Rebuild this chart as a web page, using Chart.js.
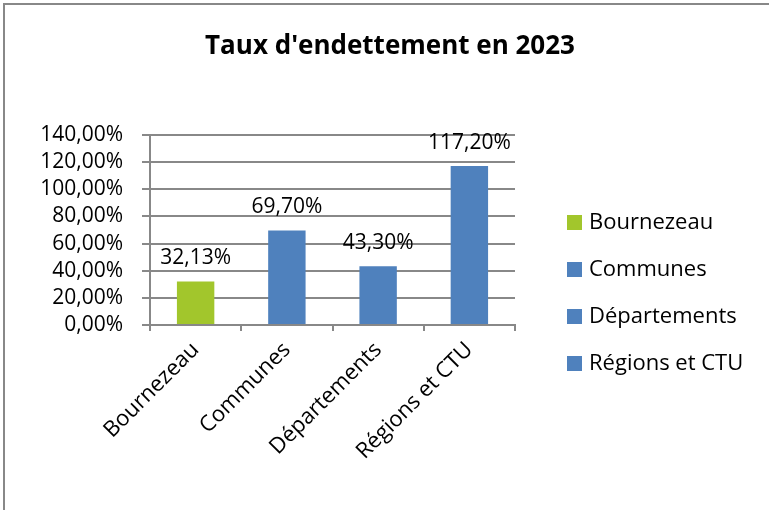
<!DOCTYPE html>
<html>
<head>
<meta charset="utf-8">
<script src="https://cdn.jsdelivr.net/npm/chart.js@4"></script>
<style>
  body { margin: 0; background: #fff; }
  #wrap { position: relative; width: 769px; height: 510px; overflow: hidden; }
  #frame { position: absolute; left: 3px; top: 3px; width: 800px; height: 600px;
           border-left: 2px solid #888; border-top: 2px solid #888; pointer-events: none; }
  #title { position: absolute; left: 0; width: 780px; top: 26px; text-align: center;
           font-family: "Open Sans", sans-serif; font-weight: bold; font-size: 26px; line-height: 36px; color: #000; }
  #legend { position: absolute; left: 567px; top: 205px; font-family: "Open Sans", sans-serif;
            font-size: 22px; line-height: 30px; color: #000; }
  #legend div { height: 47px; white-space: nowrap; }
  #legend span.box { display: inline-block; width: 15px; height: 15px; margin-right: 7px; vertical-align: -1px; }
</style>
</head>
<body>
<div id="wrap">
  <canvas id="chart" width="769" height="510"></canvas>
  <div id="frame"></div>
  <div id="title">Taux d'endettement en 2023</div>
  <div id="legend"></div>
</div>
<script>
// data
const categories = ["Bournezeau", "Communes", "Départements", "Régions et CTU"];
const rates = [32.13, 69.70, 43.30, 117.20];
const barColors = ["#a2c62c", "#4f81bd", "#4f81bd", "#4f81bd"];
const yMax = 140;
const yStep = 20;

const fmt = v => v.toFixed(2).replace(".", ",") + "%";
const font = "'Open Sans', sans-serif";

// labels above the bars
const valueLabels = {
    id: "valueLabels",
    afterDatasetsDraw(chart){
        const ctx = chart.ctx;
        const meta = chart.getDatasetMeta(0);
        ctx.save();
        ctx.font = "21px " + font;
        ctx.fillStyle = "#000";
        ctx.textAlign = "center";
        ctx.textBaseline = "middle";
        meta.data.forEach((bar, i) => {
            ctx.fillText(fmt(rates[i]), bar.x, bar.y - 23);
        });
        ctx.restore();
    }
};

new Chart(document.getElementById("chart"), {
    type: "bar",
    data: {
        labels: categories,
        datasets: [{
            data: rates,
            backgroundColor: barColors,
            categoryPercentage: 1,
            barPercentage: 0.41
        }]
    },
    options: {
        responsive: false,
        animation: false,
        layout: { padding: { left: 0, right: 254, top: 135, bottom: 0 } },
        plugins: {
            legend: { display: false },
            tooltip: { enabled: false },
            title: { display: false }
        },
        scales: {
            x: {
                grid: { offset: true, drawOnChartArea: false, color: "#888", lineWidth: 2, tickLength: 6 },
                border: { display: true, color: "#888", width: 2 },
                ticks: { color: "#000", font: { family: font, size: 22 }, minRotation: 45, maxRotation: 45, padding: 6 },
                afterFit: s => { s.height = 185; }
            },
            y: {
                min: 0,
                max: yMax,
                grid: { color: "#888", lineWidth: 2, tickLength: 8 },
                border: { display: true, color: "#888", width: 2 },
                ticks: {
                    stepSize: yStep,
                    autoSkip: false,
                    color: "#000",
                    font: { family: font, size: 21, lineHeight: 1 },
                    padding: 19,
                    callback: v => fmt(v)
                },
                afterFit: s => { s.width = 150; }
            }
        }
    },
    plugins: [valueLabels]
});

// legend
const legend = document.getElementById("legend");
categories.forEach((c, i) => {
    const row = document.createElement("div");
    row.innerHTML = `<span class="box" style="background:${barColors[i]}"></span>${c}`;
    legend.appendChild(row);
});
</script>
</body>
</html>
